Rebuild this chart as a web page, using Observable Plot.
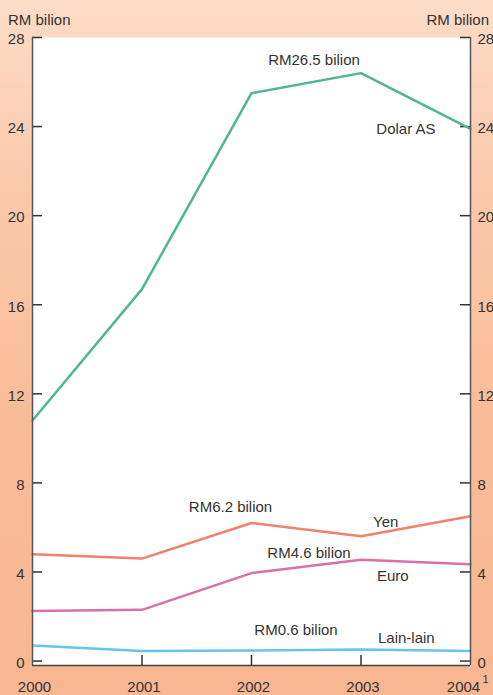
<!DOCTYPE html>
<html><head><meta charset="utf-8">
<script src="https://cdn.jsdelivr.net/npm/d3@7"></script>
<script src="https://cdn.jsdelivr.net/npm/@observablehq/plot@0.6"></script>
<style>
html,body{margin:0;padding:0;}
#wrap{position:relative;width:493px;height:695px;background:linear-gradient(to bottom,#fddcc8 0%,#fbcaac 25%,#f9bc99 60%,#f8b692 100%);font-family:"Liberation Sans",Arial,sans-serif;color:#333;overflow:hidden}
#wrap svg{position:absolute;left:0;top:0}
.unit{position:absolute;top:11px;font-size:15px;line-height:18px;}
#uL{left:8px} #uR{right:4px}
</style></head><body>
<div id="wrap"><span class="unit" id="uL">RM bilion</span><span class="unit" id="uR">RM bilion</span></div>
<script>
const years = [2000, 2001, 2002, 2003, 2004];
const dolarAS = [10.8, 16.7, 25.5, 26.4, 23.9];
const yen = [4.8, 4.6, 6.2, 5.6, 6.5];
const euro = [2.25, 2.3, 3.95, 4.55, 4.35];
const lainLain = [0.7, 0.45, 0.47, 0.52, 0.45];
const seriesNames = ["Dolar AS", "Yen", "Euro", "Lain-lain"];
const seriesColors = ["#4fb78e", "#f1806c", "#d96fa8", "#62c7ef"];
const yTicks = [0, 4, 8, 12, 16, 20, 24, 28];
const xTickLabels = ["2000", "2001", "2002", "2003", "2004"];
const footnoteMark = "1";
const valueLabels = ["RM26.5 bilion", "RM6.2 bilion", "RM4.6 bilion", "RM0.6 bilion"];

const seriesValues = [dolarAS, yen, euro, lainLain];
const rows = seriesNames.flatMap((name, s) => years.map((year, i) => ({year, value: seriesValues[s][i], series: name})));
const pt = (name, year) => rows.filter(d => d.series === name && d.year === year);

const W = 493, H = 695, mL = 32, mR = 23, mT = 37, mB = 30;
const fw = W - mL - mR, fh = H - mT - mB;
const ink = "#333";
const txt = {x: "year", y: "value", fill: ink, fontSize: 15};
const lastYear = years[years.length - 1];

const chart = Plot.plot({
  width: W, height: H,
  marginLeft: mL, marginRight: mR, marginTop: mT, marginBottom: mB,
  style: {fontFamily: '"Liberation Sans", Arial, sans-serif', fontSize: "15px", color: ink, background: "transparent", overflow: "visible"},
  x: {domain: [years[0], lastYear]},
  y: {domain: [-0.2, yTicks[yTicks.length - 1]]},
  color: {domain: seriesNames, range: seriesColors},
  marks: [
    Plot.frame({fill: "white", stroke: "none"}),
    Plot.tickY(yTicks, {y: d => d, insetRight: fw - 10, stroke: ink, strokeWidth: 1.5}),
    Plot.tickY(yTicks, {y: d => d, insetLeft: fw - 10, stroke: ink, strokeWidth: 1.5}),
    Plot.tickX(years.slice(1, -1), {x: d => d, insetTop: fh - 10, stroke: ink, strokeWidth: 1.5}),
    Plot.line(rows, {x: "year", y: "value", z: "series", stroke: "series", strokeWidth: 2.5}),
    Plot.ruleX([years[0], lastYear], {stroke: "#555", strokeWidth: 1.5}),
    Plot.ruleY([-0.2], {stroke: "#444", strokeWidth: 1.5}),
    Plot.axisY(yTicks, {anchor: "left", tickSize: 0, tickPadding: 8, dy: 2, fontSize: 15, fill: ink, label: null}),
    Plot.axisY(yTicks, {anchor: "right", tickSize: 0, tickPadding: 7, dy: 2, fontSize: 15, fill: ink, label: null}),
    Plot.axisX(years.slice(0, -1), {tickSize: 0, tickPadding: 16, dx: 2, fontSize: 15, fill: ink, label: null, tickFormat: d => xTickLabels[years.indexOf(d)]}),
    Plot.text([lastYear], {x: d => d, frameAnchor: "bottom", text: d => xTickLabels[years.indexOf(d)], fontSize: 15, fill: ink, lineAnchor: "top", dy: 16, dx: -7}),
    Plot.text([lastYear], {x: d => d, frameAnchor: "bottom", text: () => footnoteMark, fontSize: 11, fill: ink, lineAnchor: "top", textAnchor: "start", dy: 10, dx: 12}),
    Plot.text(pt("Dolar AS", 2003), {...txt, text: () => valueLabels[0], dx: -47, dy: -13}),
    Plot.text(pt("Dolar AS", 2004), {...txt, text: "series", textAnchor: "end", dx: -35, dy: 0}),
    Plot.text(pt("Yen", 2002), {...txt, text: () => valueLabels[1], dx: -21, dy: -16}),
    Plot.text(pt("Yen", 2003), {...txt, text: "series", textAnchor: "start", dx: 12, dy: -14}),
    Plot.text(pt("Euro", 2003), {...txt, text: () => valueLabels[2], dx: -52, dy: -7}),
    Plot.text(pt("Euro", 2003), {...txt, text: "series", textAnchor: "start", dx: 16, dy: 16}),
    Plot.text(pt("Lain-lain", 2003), {...txt, text: () => valueLabels[3], dx: -65, dy: -19}),
    Plot.text(pt("Lain-lain", 2003), {...txt, text: "series", textAnchor: "start", dx: 17, dy: -11})
  ]
});
document.getElementById("wrap").appendChild(chart);
</script>
</body></html>
